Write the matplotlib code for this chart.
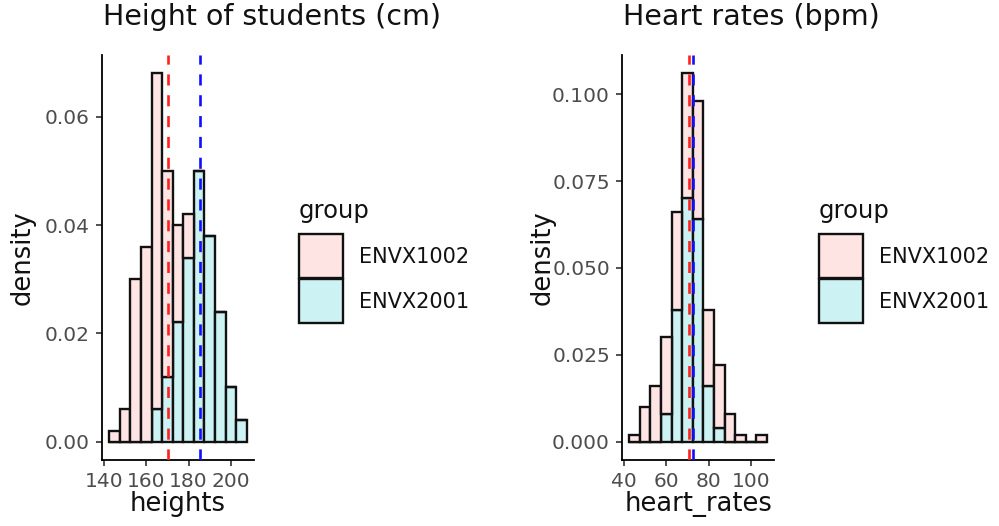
import matplotlib
matplotlib.use("Agg")
import matplotlib.pyplot as plt
from matplotlib.patches import Rectangle
import numpy as np

# ---- data -------------------------------------------------------------
groups = ["ENVX1002", "ENVX2001"]

# heights (cm): bin centres, binwidth 5, per-group density
height_bins = [145, 150, 155, 160, 165, 170, 175, 180, 185, 190, 195, 200, 205]
height_envx1002 = [0.002, 0.006, 0.030, 0.036, 0.062, 0.038, 0.018, 0.008, 0, 0, 0, 0, 0]
height_envx2001 = [0, 0, 0, 0, 0.006, 0.012, 0.022, 0.034, 0.050, 0.038, 0.024, 0.010, 0.004]
height_means = [170.3, 185.4]
height_xticks = [140, 160, 180, 200]
height_yticks = [0.00, 0.02, 0.04, 0.06]
height_yticklabels = ["0.00", "0.02", "0.04", "0.06"]

# heart rates (bpm)
rate_bins = [45, 50, 55, 60, 65, 70, 75, 80, 85, 90, 95, 100, 105]
rate_envx1002 = [0.002, 0.010, 0.016, 0.022, 0.028, 0.036, 0.034, 0.022, 0.018, 0.008, 0.002, 0, 0.002]
rate_envx2001 = [0, 0, 0, 0.008, 0.038, 0.070, 0.064, 0.016, 0.004, 0, 0, 0, 0]
rate_means = [70.6, 72.4]
rate_xticks = [40, 60, 80, 100]
rate_yticks = [0.000, 0.025, 0.050, 0.075, 0.100]
rate_yticklabels = ["0.000", "0.025", "0.050", "0.075", "0.100"]

binwidth = 5

# ---- style ------------------------------------------------------------
plt.rcParams["font.family"] = ["DejaVu Sans"]
plt.rcParams["lines.scale_dashes"] = False
fill_colors = ["#FEE4E2", "#CCF2F3"]
line_colors = ["#FF2020", "#1010FF"]
tick_text = "#4D4D4D"

W, H = 999, 526
fig = plt.figure(figsize=(W / 100, H / 100), dpi=100)


def fx(px):
    return px / W


def fy(py):
    return 1 - py / H


def panel(left_px, right_px, bins, d1002, d2001, means, xticks, yticks,
          yticklabels, title, xlabel):
    top_px, bottom_px = 55, 460
    ax = fig.add_axes([fx(left_px), fy(bottom_px),
                       fx(right_px - left_px), (bottom_px - top_px) / H])
    bins = np.asarray(bins, float)
    d1 = np.asarray(d1002, float)
    d2 = np.asarray(d2001, float)
    # stacked histogram: ENVX2001 at the bottom, ENVX1002 on top
    ax.bar(bins, d2, width=binwidth, bottom=0, color=fill_colors[1],
           edgecolor="#111111", linewidth=1.7, zorder=2)
    ax.bar(bins, d1, width=binwidth, bottom=d2, color=fill_colors[0],
           edgecolor="#111111", linewidth=1.7, zorder=2)
    for m, c in zip(means, line_colors):
        ax.axvline(m, color=c, linewidth=1.9, dashes=(8.0, 7.0), zorder=3)

    lo, hi = bins.min() - binwidth / 2, bins.max() + binwidth / 2
    ymax = (d1 + d2).max()
    ax.set_xlim(lo - 0.05 * (hi - lo), hi + 0.05 * (hi - lo))
    ax.set_ylim(-0.05 * ymax, ymax * 1.05)

    ax.set_xticks(xticks)
    ax.set_xticklabels([str(t) for t in xticks])
    ax.set_yticks(yticks)
    ax.set_yticklabels(yticklabels)
    ax.tick_params(axis="both", direction="out", length=4, width=1.1,
                   color="#222222", labelsize=14.5, labelcolor=tick_text)
    ax.tick_params(axis="x", pad=4.5)
    ax.tick_params(axis="y", pad=5)
    for s in ("top", "right"):
        ax.spines[s].set_visible(False)
    for s in ("left", "bottom"):
        ax.spines[s].set_linewidth(1.3)
        ax.spines[s].set_color("black")
    ax.set_facecolor("white")

    fig.text(fx(left_px + 0.5), fy(25), title, fontsize=20.5,
             ha="left", va="baseline", color="#111111")
    fig.text(fx((left_px + right_px) / 2), fy(511), xlabel, fontsize=18.5,
             ha="center", va="baseline", color="#111111")
    fig.text(fx(left_px - 79.5), fy(258), "density", fontsize=18.5,
             rotation=90, ha="center", va="center", color="#111111")

    # legend
    lx = left_px + 196
    fig.text(fx(lx), fy(218), "group", fontsize=17.5, ha="left",
             va="baseline", color="#111111")
    key_tops = [234, 279]
    for i, g in enumerate(groups):
        fig.patches.append(Rectangle((fx(lx + 0.5), fy(key_tops[i] + 44)),
                                     fx(44), 44 / H,
                                     transform=fig.transFigure,
                                     facecolor=fill_colors[i],
                                     edgecolor="#111111", linewidth=1.7))
        fig.text(fx(lx + 61), fy(key_tops[i] + 23), g, fontsize=15,
                 ha="left", va="center", color="#111111")
    return ax


panel(102.4, 253.6, height_bins, height_envx1002, height_envx2001,
      height_means, height_xticks, height_yticks, height_yticklabels,
      "Height of students (cm)", "heights")
panel(622.4, 773.8, rate_bins, rate_envx1002, rate_envx2001,
      rate_means, rate_xticks, rate_yticks, rate_yticklabels,
      "Heart rates (bpm)", "heart_rates")

fig.savefig("out.png", dpi=100, facecolor="white")
